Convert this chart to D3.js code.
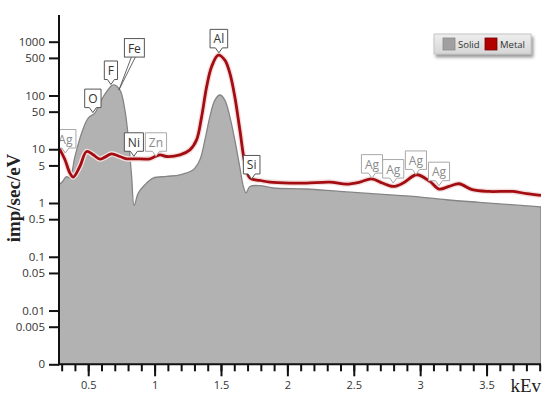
<!DOCTYPE html>
<html>
<head>
<meta charset="utf-8">
<script src="https://cdn.jsdelivr.net/npm/d3@7"></script>
<style>
  body { margin: 0; background: #fff; }
  svg { display: block; }
</style>
</head>
<body>
<div id="plot"></div>
<script>
// Solid spectrum (gray area)
const solidKev = [0.28, 0.30, 0.337, 0.362, 0.40, 0.45, 0.50, 0.55, 0.588, 0.639, 0.688, 0.739, 0.776, 0.801, 0.827, 0.846, 0.877, 0.927, 0.989, 1.09, 1.191, 1.291, 1.341, 1.379, 1.416, 1.454, 1.492, 1.529, 1.567, 1.604, 1.642, 1.667, 1.688, 1.718, 1.793, 1.893, 2.144, 2.394, 2.747, 2.947, 3.198, 3.443, 3.91];
const solidVal = [2.2, 2.4, 3.1, 2.95, 7.3, 19.9, 38, 47, 73, 118, 157, 126, 54, 17.2, 3.1, 0.9, 1.53, 2.19, 2.91, 3.12, 3.35, 4.15, 6.36, 14.9, 40, 82, 102, 82, 40, 14.9, 4.6, 2.1, 1.55, 2.03, 2.10, 1.90, 1.82, 1.64, 1.43, 1.33, 1.15, 1.03, 0.85];

// Metal spectrum (red line)
const metalKev = [0.28, 0.325, 0.362, 0.387, 0.437, 0.488, 0.538, 0.588, 0.626, 0.676, 0.739, 0.789, 0.852, 0.965, 0.989, 1.04, 1.09, 1.191, 1.266, 1.316, 1.354, 1.392, 1.429, 1.479, 1.529, 1.567, 1.604, 1.642, 1.680, 1.718, 1.793, 1.868, 2.018, 2.144, 2.319, 2.446, 2.546, 2.634, 2.715, 2.797, 2.872, 2.973, 3.073, 3.142, 3.217, 3.293, 3.392, 3.519, 3.70, 3.801, 3.91];
const metalVal = [10.6, 6.36, 3.6, 3.04, 4.78, 9.06, 7.87, 6.55, 7.13, 8.22, 7.33, 6.64, 6.64, 6.64, 7.0, 7.87, 7.33, 7.87, 9.75, 14.9, 40, 146, 342, 564, 456, 258, 95, 23, 5.52, 2.91, 2.63, 2.45, 2.35, 2.35, 2.45, 2.25, 2.45, 2.82, 2.35, 2.03, 2.35, 3.35, 2.52, 1.82, 2.03, 2.28, 1.77, 1.64, 1.64, 1.49, 1.38];

// element labels and where they point
const labelNames = ["Ag", "O", "F", "Fe", "Ni", "Zn", "Al", "Si", "Ag", "Ag", "Ag", "Ag"];
const labelKev = [0.328, 0.535, 0.671, 0.731, 0.844, 1.01, 1.484, 1.731, 2.637, 2.797, 2.968, 3.142];
const labelVal = [8.5, 48, 160, 126, 7.4, 7.4, 620, 2.8, 2.9, 2.35, 3.4, 2.1];

// axis ticks
const yTickVals = [0.001, 0.005, 0.01, 0.05, 0.1, 0.5, 1, 5, 10, 50, 100, 500, 1000];
const yTickLabels = ["0", "0.005", "0.01", "0.05", "0.1", "0.5", "1", "5", "10", "50", "100", "500", "1000"];
const xMajor = [0.5, 1, 1.5, 2, 2.5, 3, 3.5];
const xMajorLabels = ["0.5", "1", "1.5", "2", "2.5", "3", "3.5"];
const xMinor = d3.range(3, 40).map(d => d / 10);

const legendNames = ["Solid", "Metal"];

const width = 550, height = 399;
const mLeft = 59, mRight = 541, mTop = 15, mBottom = 364.3;

const svg = d3.select("#plot").append("svg")
  .attr("width", width)
  .attr("height", height);

const x = d3.scaleLinear().domain([0.28, 3.91]).range([mLeft, mRight]);
const y = d3.scaleLog().domain([0.001, 3138]).range([mBottom, mTop]);

const defs = svg.append("defs");
defs.append("clipPath").attr("id", "plotclip")
  .append("rect").attr("x", mLeft).attr("y", 0).attr("width", mRight - mLeft).attr("height", mBottom);
const grad = defs.append("linearGradient").attr("id", "leggrad")
  .attr("x1", 0).attr("y1", 0).attr("x2", 0).attr("y2", 1);
grad.append("stop").attr("offset", "0%").attr("stop-color", "#eeeeee");
grad.append("stop").attr("offset", "100%").attr("stop-color", "#d6d6d6");
const shadow = defs.append("filter").attr("id", "shadow")
  .attr("x", "-10%").attr("y", "-20%").attr("width", "130%").attr("height", "160%");
shadow.append("feDropShadow").attr("dx", 2).attr("dy", 3).attr("stdDeviation", 1.5)
  .attr("flood-color", "#555").attr("flood-opacity", 0.6);

const plot = svg.append("g").attr("clip-path", "url(#plotclip)");

// smooth curves through the read-off points
const curve = d3.curveCatmullRom.alpha(0.5);

// gray area
const solid = solidKev.map((k, i) => [k, solidVal[i]]);
const area = d3.area()
  .x(d => x(d[0]))
  .y0(mBottom)
  .y1(d => y(d[1]))
  .curve(curve);
plot.append("path")
  .datum(solid)
  .attr("d", area)
  .attr("fill", "#b2b2b2")
  .attr("stroke", "#858585")
  .attr("stroke-width", 1.3);

// red line, with a soft light halo
const metal = metalKev.map((k, i) => [k, metalVal[i]]);
const line = d3.line()
  .x(d => x(d[0]))
  .y(d => y(d[1]))
  .curve(curve);
plot.append("path")
  .datum(metal)
  .attr("d", line)
  .attr("fill", "none")
  .attr("stroke", "#f3dede")
  .attr("stroke-width", 5.5);
plot.append("path")
  .datum(metal)
  .attr("d", line)
  .attr("fill", "none")
  .attr("stroke", "#a30d12")
  .attr("stroke-width", 2.8);

// callout labels
const faded = { 0: true, 5: true, 8: true, 9: true, 10: true, 11: true };
const labels = plot.append("g");
labelNames.forEach(function(name, i) {
  const tx = x(labelKev[i]), ty = y(labelVal[i]);
  const col = faded[i] ? "#8a8a8a" : "#333";
  const edge = faded[i] ? "#a8a8a8" : "#555";
  const g = labels.append("g");
  const t = g.append("text")
    .text(name)
    .attr("font-family", "'Open Sans', sans-serif")
    .attr("font-size", 12)
    .attr("fill", col)
    .attr("text-anchor", "middle");
  const w = t.node().getComputedTextLength() + 7;
  const h = 18.5;
  let cx = tx, bot = ty - 5;
  if (name === "Fe") { cx = tx + 15.5; bot = ty - 33; }
  const l = cx - w / 2, r = cx + w / 2, tp = bot - h;
  if (name === "Fe") {
    g.insert("path", "text")
      .attr("d", `M${cx - 3},${bot} L${tx},${ty} L${cx + 1},${bot}`)
      .attr("fill", "#fff").attr("stroke", edge).attr("stroke-width", 0.9);
    g.insert("rect", "text")
      .attr("x", l).attr("y", tp).attr("width", w).attr("height", h)
      .attr("fill", "#fff").attr("stroke", edge).attr("stroke-width", 1);
  } else {
    g.insert("path", "text")
      .attr("d", `M${l},${tp} H${r} V${bot} H${cx + 3.5} L${cx},${ty} L${cx - 3.5},${bot} H${l} Z`)
      .attr("fill", "#fff").attr("stroke", edge).attr("stroke-width", 1);
  }
  t.attr("x", cx).attr("y", tp + 14);
});

// y axis
const yAxis = d3.axisLeft(y)
  .tickValues(yTickVals)
  .tickFormat((d, i) => yTickLabels[i])
  .tickSize(10)
  .tickPadding(4);
const gy = svg.append("g").attr("transform", `translate(${mLeft},0)`).call(yAxis);
gy.select(".domain").remove();
gy.selectAll("line").attr("stroke", "#111").attr("stroke-width", 2);
gy.selectAll("text")
  .attr("font-family", "'Open Sans', sans-serif")
  .attr("font-size", 11.5)
  .attr("fill", "#333");

// x axis: minor then major ticks
const gxMinor = svg.append("g").attr("transform", `translate(0,${mBottom})`)
  .call(d3.axisBottom(x).tickValues(xMinor).tickSize(7).tickFormat(""));
gxMinor.select(".domain").remove();
gxMinor.selectAll("line").attr("stroke", "#111").attr("stroke-width", 2);

const gx = svg.append("g").attr("transform", `translate(0,${mBottom})`)
  .call(d3.axisBottom(x).tickValues(xMajor).tickSize(12).tickPadding(5)
    .tickFormat((d, i) => xMajorLabels[i]));
gx.select(".domain").remove();
gx.selectAll("line").attr("stroke", "#111").attr("stroke-width", 2);
gx.selectAll("text")
  .attr("font-family", "'Open Sans', sans-serif")
  .attr("font-size", 11)
  .attr("fill", "#333");

// axis lines
svg.append("line").attr("x1", mLeft).attr("x2", mLeft).attr("y1", mTop).attr("y2", mBottom + 1)
  .attr("stroke", "#111").attr("stroke-width", 2);
svg.append("line").attr("x1", mLeft - 1).attr("x2", mRight).attr("y1", mBottom).attr("y2", mBottom)
  .attr("stroke", "#111").attr("stroke-width", 2);

// axis titles
svg.append("text")
  .text("imp/sec/eV")
  .attr("transform", `translate(20,${198}) rotate(-90)`)
  .attr("text-anchor", "middle")
  .attr("font-family", "'Liberation Serif', serif")
  .attr("font-weight", "bold")
  .attr("font-size", 19)
  .attr("fill", "#222");
svg.append("text")
  .text("kEv")
  .attr("x", 541).attr("y", 392)
  .attr("text-anchor", "end")
  .attr("font-family", "'Liberation Serif', serif")
  .attr("font-size", 19)
  .attr("fill", "#222");

// legend
const leg = svg.append("g");
leg.append("rect")
  .attr("x", 434).attr("y", 34).attr("width", 97).attr("height", 20)
  .attr("fill", "url(#leggrad)").attr("stroke", "#c4c4c4")
  .attr("filter", "url(#shadow)");
const legColors = ["#a0a0a0", "#b00000"];
const legEdges = ["#8a8a8a", "#7a0000"];
const legX = [443, 485];
legendNames.forEach(function(n, i) {
  leg.append("rect")
    .attr("x", legX[i]).attr("y", 38).attr("width", 12).attr("height", 12)
    .attr("fill", legColors[i]).attr("stroke", legEdges[i]).attr("stroke-width", 0.8);
  leg.append("text")
    .text(n)
    .attr("x", legX[i] + 15).attr("y", 48)
    .attr("font-family", "'Open Sans', sans-serif")
    .attr("font-size", 9.5)
    .attr("fill", "#333");
});
</script>
</body>
</html>
